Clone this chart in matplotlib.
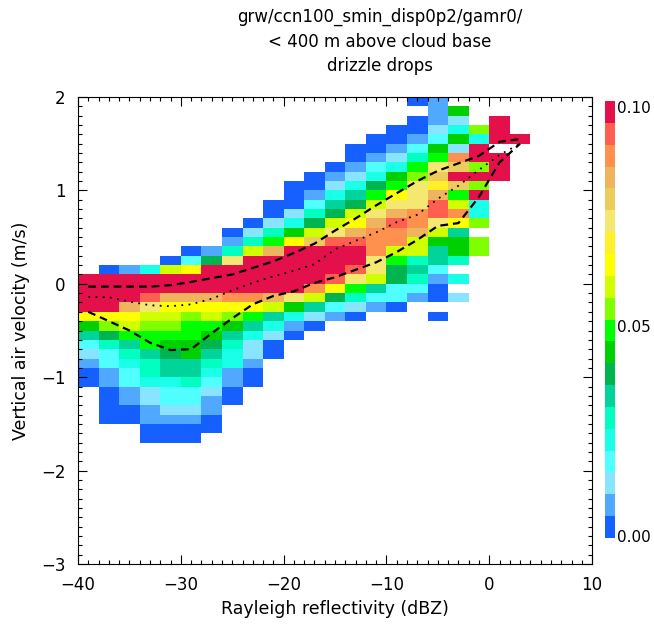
import numpy as np
import matplotlib
matplotlib.use("Agg")
import matplotlib.pyplot as plt
from matplotlib.colors import ListedColormap, BoundaryNorm

# bin edges: reflectivity (dBZ) and vertical air velocity (m/s)
dbz_edges = np.arange(-40, 11, 2)
w_edges = np.round(np.arange(-3.0, 2.01, 0.1), 2)

# relative frequency (x 1e-3) per bin, rows from w = 2.0 downward,
# columns from -40 dBZ in 2 dBZ steps (bins above 4 dBZ are empty)
freq_permille = [
    [0,0,0,0,0,0,0,0,0,0,0,0,0,0,0,0,3,8,0,0,0,0],
    [0,0,0,0,0,0,0,0,0,0,0,0,0,0,0,0,0,8,43,0,0,0],
    [0,0,0,0,0,0,0,0,0,0,0,0,0,0,0,0,3,8,13,0,130,0],
    [0,0,0,0,0,0,0,0,0,0,0,0,0,0,0,3,3,13,23,53,130,0],
    [0,0,0,0,0,0,0,0,0,0,0,0,0,0,3,3,8,18,43,23,130,130],
    [0,0,0,0,0,0,0,0,0,0,0,0,0,3,3,8,18,43,13,130,0,0],
    [0,0,0,0,0,0,0,0,0,0,0,0,0,3,8,13,28,48,88,130,130,0],
    [0,0,0,0,0,0,0,0,0,0,0,0,3,8,18,23,48,73,78,53,130,0],
    [0,0,0,0,0,0,0,0,0,0,0,3,8,13,23,43,53,78,130,130,130,0],
    [0,0,0,0,0,0,0,0,0,0,3,3,13,23,38,48,73,68,78,53,0,0],
    [0,0,0,0,0,0,0,0,0,0,3,8,23,33,48,63,73,83,48,130,0,0],
    [0,0,0,0,0,0,0,0,0,3,3,18,33,38,58,73,73,93,58,23,0,0],
    [0,0,0,0,0,0,0,0,0,3,13,28,38,58,73,83,88,93,88,23,0,0],
    [0,0,0,0,0,0,0,0,3,13,23,38,58,63,83,93,88,73,63,53,0,0],
    [0,0,0,0,0,0,0,3,13,28,43,58,73,83,88,88,83,58,33,0,0,0],
    [0,0,0,0,0,0,0,8,28,48,63,78,93,93,88,88,58,43,43,53,0,0],
    [0,0,0,0,0,3,8,28,58,83,130,130,130,130,88,58,58,33,43,53,0,0],
    [0,0,0,0,3,18,38,73,130,130,130,130,130,130,73,48,28,33,28,0,0,0],
    [0,3,8,23,58,63,130,130,130,130,130,130,130,93,73,38,33,18,0,0,0,0],
    [130,130,130,130,130,130,130,130,130,130,130,130,93,73,58,38,28,8,23,0,0,0],
    [130,130,130,130,130,130,130,130,130,130,130,88,63,48,33,18,18,3,0,0,0,0],
    [130,130,130,93,83,83,83,88,88,83,73,58,38,28,18,18,8,3,13,0,0,0],
    [130,130,83,73,63,63,63,63,63,58,43,33,18,13,8,3,0,0,0,0,0,0],
    [63,63,63,58,58,53,58,53,48,33,23,13,8,3,0,0,0,3,0,0,0,0],
    [43,53,58,53,53,48,48,43,33,23,8,3,0,0,0,0,0,0,0,0,0,0],
    [33,38,48,48,48,48,43,33,23,13,3,0,0,0,0,0,0,0,0,0,0,0],
    [18,28,33,48,43,43,38,28,13,3,0,0,0,0,0,0,0,0,0,0,0,0],
    [13,18,28,33,38,43,33,23,13,3,0,0,0,0,0,0,0,0,0,0,0,0],
    [8,18,23,28,33,33,28,23,8,0,0,0,0,0,0,0,0,0,0,0,0,0],
    [3,8,18,28,33,33,23,8,3,0,0,0,0,0,0,0,0,0,0,0,0,0],
    [3,8,18,23,23,28,18,8,3,0,0,0,0,0,0,0,0,0,0,0,0,0],
    [0,3,8,13,18,18,13,3,0,0,0,0,0,0,0,0,0,0,0,0,0,0],
    [0,3,8,13,18,18,8,3,0,0,0,0,0,0,0,0,0,0,0,0,0,0],
    [0,3,3,8,13,13,8,0,0,0,0,0,0,0,0,0,0,0,0,0,0,0],
    [0,3,3,8,8,8,3,0,0,0,0,0,0,0,0,0,0,0,0,0,0,0],
    [0,0,0,3,3,3,3,0,0,0,0,0,0,0,0,0,0,0,0,0,0,0],
    [0,0,0,3,3,3,0,0,0,0,0,0,0,0,0,0,0,0,0,0,0,0],
]

# percentile / median curves at bin centres
dbz_centres = [-39, -37, -35, -33, -31, -29, -27, -25, -23, -21, -19,
               -17, -15, -13, -11, -9, -7, -5, -3, -1, 1, 3]
w_upper = [-0.03, -0.03, -0.03, -0.03, -0.015, 0.02, 0.06, 0.10, 0.17, 0.24, 0.33,
           0.43, 0.57, 0.70, 0.84, 0.97, 1.10, 1.21, 1.29, 1.37, 1.52, 1.55]
w_median = [-0.14, -0.145, -0.19, -0.23, -0.24, -0.22, -0.16, -0.07, 0.01, 0.08, 0.14,
            0.21, 0.37, 0.46, 0.55, 0.66, 0.74, 0.91, 1.05, 1.22, 1.38, 1.50]
w_lower = [-0.30, -0.40, -0.50, -0.63, -0.71, -0.70, -0.53, -0.37, -0.22, -0.13, -0.08,
           0.01, 0.07, 0.15, 0.23, 0.34, 0.47, 0.62, 0.65, 0.93, 1.30, 1.50]

# 20 colour levels, 0.00 -> 0.10
level_colors = ["#1560FF", "#50A8FF", "#88E4FF", "#50FFFF", "#1AFFE8",
                "#00FFC0", "#00D49A", "#00B450", "#00D000", "#00FF00",
                "#80FF00", "#D0FF00", "#FFFF00", "#FFF02A", "#F5E870",
                "#EDCC5E", "#EEB55E", "#FF914F", "#FF5F4F", "#E4104C"]
levels = np.linspace(0, 0.10, 21)

# put the table into the full (w, dBZ) grid
grid = np.full((len(w_edges) - 1, len(dbz_edges) - 1), np.nan)
for r, row in enumerate(freq_permille):
    j = len(w_edges) - 2 - r
    for i, v in enumerate(row):
        if v > 0:
            grid[j, i] = v / 1000.0

cmap = ListedColormap(level_colors)
cmap.set_over(level_colors[-1])
cmap.set_bad("white")
norm = BoundaryNorm(levels, cmap.N)

plt.rcParams["font.family"] = "DejaVu Sans"

fig = plt.figure(figsize=(6.54, 6.25), dpi=100)
ax = fig.add_axes([0.1193, 0.0976, 0.786, 0.7472])

ax.pcolormesh(dbz_edges, w_edges, np.ma.masked_invalid(grid),
              cmap=cmap, norm=norm, shading="flat")

dash = (0, (3.5, 2.2))
ax.plot(dbz_centres, w_upper, color="black", lw=1.6, linestyle=dash)
ax.plot(dbz_centres, w_lower, color="black", lw=1.6, linestyle=dash)
ax.plot(dbz_centres, w_median, color="black", lw=1.3, linestyle=(0, (1, 3)))

ax.set_xlim(-40, 10)
ax.set_ylim(-3, 2)
ax.set_xticks(np.arange(-40, 11, 10))
ax.set_xticks(np.arange(-40, 11, 1), minor=True)
ax.set_yticks(np.arange(-3, 3, 1))
ax.set_yticks(np.arange(-3, 2.01, 0.1), minor=True)
ax.tick_params(which="both", direction="in", top=True, right=True,
               width=0.8, labelsize=12)
ax.tick_params(which="major", length=6.5, pad=9)
ax.tick_params(which="minor", length=3.2)
for sp in ax.spines.values():
    sp.set_linewidth(0.8)

ax.set_xlabel("Rayleigh reflectivity (dBZ)", fontsize=12.5, labelpad=4)
ax.set_ylabel("Vertical air velocity (m/s)", fontsize=12.5, labelpad=8)

fig.text(380 / 654, 1 - 8 / 625,
         "grw/ccn100_smin_disp0p2/gamr0/\n< 400 m above cloud base\ndrizzle drops",
         ha="center", va="top", fontsize=12, linespacing=1.45)

# colour bar: one strip per level, labelled at the ends and the middle
cax = fig.add_axes([605 / 654, 87 / 625, 10 / 654, 437 / 625])
level_mids = (levels[:-1] + levels[1:]) / 2
cax.imshow(level_mids[:, None], cmap=cmap, norm=norm, origin="lower",
           extent=[0, 1, 0, 0.10], aspect="auto", interpolation="nearest")
cax.set_xlim(0, 1)
cax.set_ylim(0, 0.10)
cax.axis("off")
ytr = cax.get_yaxis_transform()
cax.text(1.25, 0.10, "0.10", transform=ytr, ha="left", va="top", fontsize=11)
cax.text(1.25, 0.05, "0.05", transform=ytr, ha="left", va="top", fontsize=11)
cax.text(1.25, 0.00, "0.00", transform=ytr, ha="left", va="center", fontsize=11)

fig.savefig("out.png", dpi=100)
